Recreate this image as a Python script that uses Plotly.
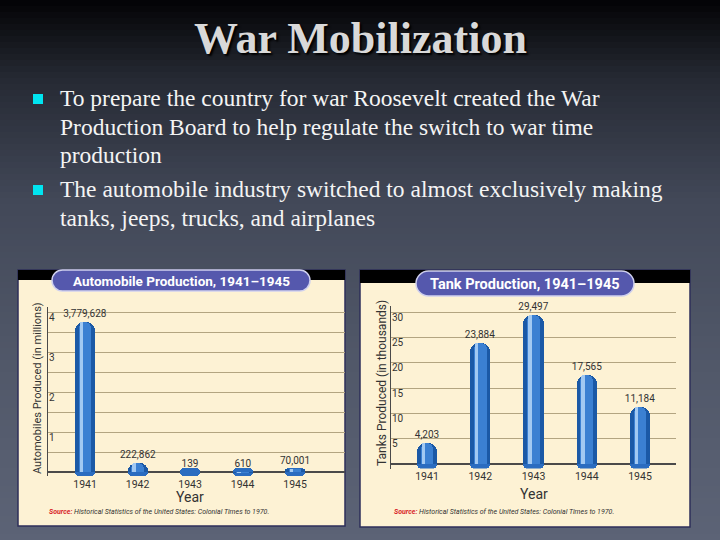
import plotly.graph_objects as go

# ---------------- data ----------------
years = ["1941", "1942", "1943", "1944", "1945"]
auto_units = [3779628, 222862, 139, 610, 70001]
tank_units = [4203, 23884, 29497, 17565, 11184]
auto_ticks = [1, 2, 3, 4]
tank_ticks = [5, 10, 15, 20, 25, 30]

slide_title = "War Mobilization"
bullet1_lines = ["To prepare the country for war Roosevelt created the War",
                 "Production Board to help regulate the switch to war time",
                 "production"]
bullet2_lines = ["The automobile industry switched to almost exclusively making",
                 "tanks, jeeps, trucks, and airplanes"]
auto_title = "Automobile Production, 1941\u20131945"
tank_title = "Tank Production, 1941\u20131945"
auto_ytitle = "Automobiles Produced (in millions)"
tank_ytitle = "Tanks Produced (in thousands)"
x_title = "Year"
source_txt = "Historical Statistics of the United States: Colonial Times to 1970."

auto_m = [v / 1e6 for v in auto_units]
tank_k = [v / 1e3 for v in tank_units]
auto_lbl = [f"{v:,}" for v in auto_units]
tank_lbl = [f"{v:,}" for v in tank_units]

W, H = 720, 540
def fx(x): return x / W
def fy(y): return 1 - y / H

NARROW = "Roboto, Liberation Sans, sans-serif"
SERIF = "Liberation Serif, Times New Roman, serif"

fig = go.Figure()

def add_cylinders(xa, ya, vals, labels, disc, wcat):
    n = len(years)
    fig.add_trace(go.Bar(x=years, y=[2 * disc] * n, base=[-disc] * n, width=wcat,
                         marker=dict(color="#2a6cc0", cornerradius=8, line=dict(width=0)),
                         xaxis=xa, yaxis=ya, hoverinfo="skip", showlegend=False))
    fig.add_trace(go.Bar(x=years, y=vals, width=wcat, text=labels, textposition="outside",
                         constraintext="none",
                         textfont=dict(size=10, color="#333333", family=NARROW),
                         cliponaxis=False,
                         marker=dict(color="#1b59a6", cornerradius=9, line=dict(width=0)),
                         xaxis=xa, yaxis=ya, showlegend=False))
    fig.add_trace(go.Bar(x=years, y=vals, width=wcat * 0.62,
                         marker=dict(color="#3b80d2", cornerradius=6, line=dict(width=0)),
                         xaxis=xa, yaxis=ya, hoverinfo="skip", showlegend=False))
    fig.add_trace(go.Bar(x=years, y=vals, width=wcat * 0.18, offset=-wcat * 0.27,
                         marker=dict(color="#a2c9f2", cornerradius=2, line=dict(width=0)),
                         xaxis=xa, yaxis=ya, hoverinfo="skip", showlegend=False))

add_cylinders("x", "y", auto_m, auto_lbl, 0.1, 0.38)
add_cylinders("x2", "y2", tank_k, tank_lbl, 0.9, 0.38)

# ---------------- shapes ----------------
shapes = []
stops = [(0, (3, 3, 5)), (80, (38, 42, 52)), (200, (66, 72, 88)), (350, (80, 87, 104)), (540, (92, 99, 118))]
def col_at(y):
    for (y0, c0), (y1, c1) in zip(stops[:-1], stops[1:]):
        if y0 <= y <= y1:
            t = (y - y0) / (y1 - y0)
            return "rgb(%d,%d,%d)" % tuple(round(a + (b - a) * t) for a, b in zip(c0, c1))
    return "rgb(92,99,118)"
step = 6
for y in range(0, H, step):
    shapes.append(dict(type="rect", xref="paper", yref="paper", x0=0, x1=1,
                       y0=fy(y + step + 1), y1=fy(y), fillcolor=col_at(y + step / 2),
                       line=dict(width=0), layer="below"))

def rect(x0, y0, x1, y1, fill, lc=None, lw=0):
    return dict(type="rect", xref="paper", yref="paper", x0=fx(x0), x1=fx(x1),
                y0=fy(y1), y1=fy(y0), fillcolor=fill,
                line=dict(width=lw, color=lc or fill), layer="below")

shapes.append(rect(18, 270, 345, 526, "#fdf2d4", "#2e2f5a", 1.5))
shapes.append(rect(18, 270, 345, 280, "#000000"))
shapes.append(rect(360, 270, 690, 527, "#fdf2d4", "#2e2f5a", 1.5))
shapes.append(rect(360, 270, 690, 283, "#000000"))

def pill(x0, y0, x1, y1):
    r = (y1 - y0) / 2
    k = 0.5523 * r
    ym = (y0 + y1) / 2
    P = lambda x, y: f"{fx(x):.5f},{fy(y):.5f}"
    d = (f"M {P(x0 + r, y0)} L {P(x1 - r, y0)} "
         f"C {P(x1 - r + k, y0)} {P(x1, ym - k)} {P(x1, ym)} "
         f"C {P(x1, ym + k)} {P(x1 - r + k, y1)} {P(x1 - r, y1)} "
         f"L {P(x0 + r, y1)} "
         f"C {P(x0 + r - k, y1)} {P(x0, ym + k)} {P(x0, ym)} "
         f"C {P(x0, ym - k)} {P(x0 + r - k, y0)} {P(x0 + r, y0)} Z")
    return dict(type="path", xref="paper", yref="paper", path=d, fillcolor="#5558ad",
                line=dict(color="#cfd0ee", width=1.5), layer="below")

shapes.append(pill(52, 270, 310, 291))
shapes.append(pill(416, 271, 634, 296))

shapes.append(rect(33, 94, 43, 104, "#00e4f0"))
shapes.append(rect(33, 185, 43, 195, "#00e4f0"))

# ---------------- annotations ----------------
ann = []
def A(x, y, text, size, color, family, xanchor="center", fontkw=None, **kw):
    ann.append(dict(x=fx(x), y=fy(y), xref="paper", yref="paper", text=text, showarrow=False,
                    xanchor=xanchor, yanchor="middle",
                    font=dict(size=size, color=color, family=family, **(fontkw or {})), **kw))

A(360, 38, "<b>" + slide_title + "</b>", 44, "#d9d9d9", SERIF, fontkw=dict(shadow="2px 2px 2px #000000"))
for i, line in enumerate(bullet1_lines):
    A(58, 98 + 28.5 * i, line, 23.5, "#f4f4f4", SERIF, xanchor="left")
for i, line in enumerate(bullet2_lines):
    A(58, 189 + 29 * i, line, 23.5, "#f4f4f4", SERIF, xanchor="left")

A(181, 281, "<b>" + auto_title + "</b>", 13.5, "#ffffff", NARROW)
A(525, 284, "<b>" + tank_title + "</b>", 14.5, "#ffffff", NARROW)

A(37, 388, auto_ytitle, 11, "#333333", NARROW, textangle=-90)
A(382, 383, tank_ytitle, 12, "#333333", NARROW, textangle=-90)
A(190, 497, x_title, 14, "#333333", NARROW)
A(534, 494, x_title, 14, "#333333", NARROW)

src = "<i><span style='color:#d8262a'><b>Source:</b></span> " + source_txt + "</i>"
A(47, 512, src, 7, "#333333", NARROW, xanchor="left")
A(392, 512, src, 7, "#333333", NARROW, xanchor="left")

# ---------------- axes ----------------
tick_font = dict(size=10, color="#333333", family=NARROW)
grid = "#b3a581"

common_x = dict(type="category", showgrid=False, showline=False, zeroline=False, ticks="",
                tickfont=dict(size=10.5, color="#333333", family=NARROW), fixedrange=True)
common_y = dict(showline=True, linecolor="#4a4a4a", linewidth=1, ticks="",
                ticklabelposition="inside", ticklabelshift=5, tickfont=tick_font,
                showgrid=True, gridcolor=grid, gridwidth=1,
                zeroline=True, zerolinecolor="#4a4a4a", zerolinewidth=1.5)

fig.update_layout(
    width=W, height=H, margin=dict(l=0, r=0, t=0, b=0),
    paper_bgcolor="#3c4150", plot_bgcolor="rgba(0,0,0,0)",
    barmode="overlay", bargap=0, showlegend=False,
    shapes=shapes, annotations=ann,
    xaxis=dict(domain=[fx(48), fx(345)], range=[-0.705, 4.95], anchor="y", **common_x),
    yaxis=dict(domain=[fy(476), fy(307)], range=[-0.1, 4.15], anchor="x",
               tickvals=auto_ticks, minor=dict(dtick=0.5, showgrid=True, gridcolor=grid, gridwidth=1),
               **common_y),
    xaxis2=dict(domain=[fx(391), fx(676)], range=[-0.676, 4.676], anchor="y2", **common_x),
    yaxis2=dict(domain=[fy(468.5), fy(306)], range=[-0.9, 31.2], anchor="x2",
                tickvals=tank_ticks, **common_y),
)

fig.write_html("out.html", config={"displayModeBar": False},
               post_script="document.body.style.margin='0';document.body.style.overflow='hidden';")
